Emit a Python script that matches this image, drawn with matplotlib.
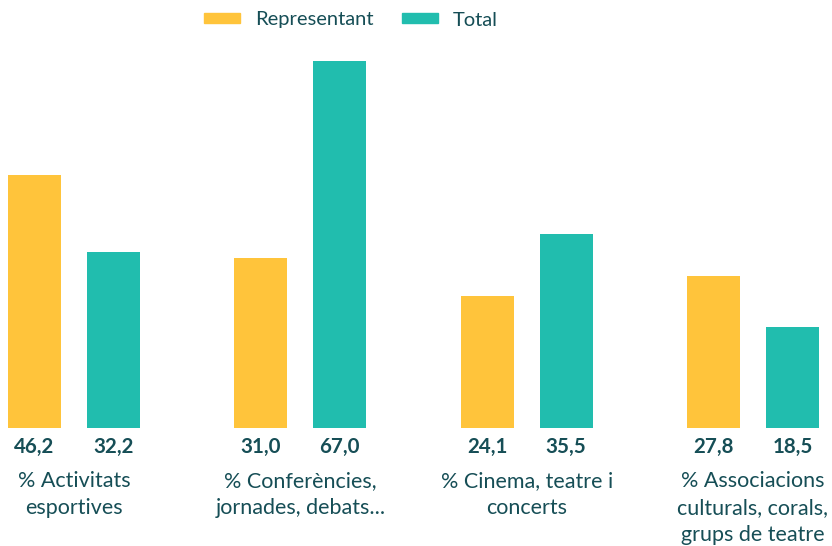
import matplotlib
matplotlib.use("Agg")
import matplotlib.pyplot as plt
from matplotlib.patches import Patch

# data
categories = [
    "% Activitats\nesportives",
    "% Conferències,\njornades, debats...",
    "% Cinema, teatre i\nconcerts",
    "% Associacions\nculturals, corals,\ngrups de teatre",
]
representant = [46.2, 31.0, 24.1, 27.8]
total = [32.2, 67.0, 35.5, 18.5]
series_names = ["Representant", "Total"]

YELLOW = "#FFC43B"
TEAL = "#21BDAE"
TEXT = "#164E56"

plt.rcParams['font.family'] = ['Lato', 'DejaVu Sans']

W, H = 832, 546
fig = plt.figure(figsize=(W / 100, H / 100), dpi=100)
# axes: baseline at y=428px, top of max value at y=61px
ax = fig.add_axes([0, (H - 428) / H, 1, (428 - 61) / H])

px_per_unit = 226.33
x0 = 74
ax.set_xlim(-x0 / px_per_unit, (W - x0) / px_per_unit)
ax.set_ylim(0, max(total))

bar_w = 53 / px_per_unit
off = 39.5 / px_per_unit
xs = list(range(len(categories)))

b1 = ax.bar([x - off for x in xs], representant, width=bar_w, color=YELLOW)
b2 = ax.bar([x + off for x in xs], total, width=bar_w, color=TEAL)

for bars, vals in ((b1, representant), (b2, total)):
    for rect, v in zip(bars, vals):
        ax.annotate(f"{v:.1f}".replace(".", ","),
                    (rect.get_x() + rect.get_width() / 2, 0),
                    xytext=(0, -19), textcoords="offset pixels",
                    ha="center", va="center", fontsize=14.8,
                    fontweight="bold", color=TEXT, annotation_clip=False)

for x, lab in zip(xs, categories):
    ax.annotate(lab, (x, 0), xytext=(0, -43), textcoords="offset pixels",
                ha="center", va="top", fontsize=15.5, color=TEXT,
                linespacing=1.45, annotation_clip=False)

ax.axis("off")

handles = [Patch(color=YELLOW), Patch(color=TEAL)]
fig.legend(handles, series_names, loc="center",
           bbox_to_anchor=(351 / W, 1 - 20 / H), ncol=2, frameon=False,
           fontsize=14.5, handlelength=1.8, handleheight=0.4,
           handletextpad=0.75, columnspacing=1.4, labelcolor=TEXT)

fig.savefig("out.png", dpi=100)
